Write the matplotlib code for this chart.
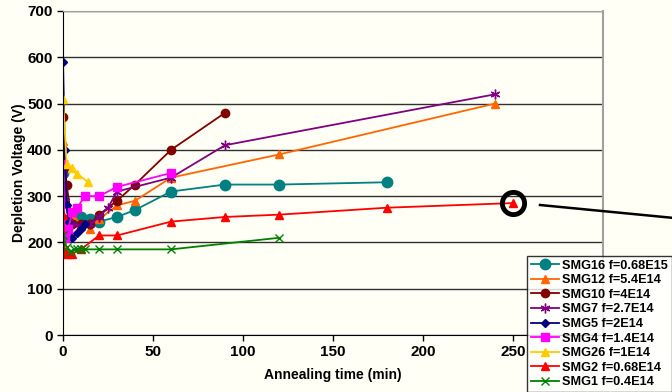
import numpy as np
import matplotlib
matplotlib.use('Agg')
import matplotlib.pyplot as plt
from matplotlib.lines import Line2D

plt.rcParams['font.family'] = ['Liberation Sans', 'DejaVu Sans']
plt.rcParams['font.weight'] = 'bold'

# Annealing data: time (min) vs depletion voltage (V) for each sample
smg16_t = [0, 5, 8, 10, 15, 20, 30, 40, 60, 90, 120, 180]
smg16_v = [350, 245, 250, 255, 250, 245, 255, 270, 310, 325, 325, 330]

smg12_t = [0, 1, 5, 10, 15, 20, 30, 40, 60, 120, 240]
smg12_v = [420, 290, 260, 240, 230, 250, 280, 290, 340, 390, 500]

smg10_t = [0, 1, 2, 5, 10, 15, 20, 30, 40, 60, 90]
smg10_v = [470, 360, 325, 240, 240, 240, 260, 290, 325, 400, 480]

smg7_t = [0, 1, 3, 5, 10, 15, 20, 25, 30, 60, 90, 240]
smg7_v = [350, 290, 255, 240, 235, 240, 255, 275, 310, 340, 410, 520]

smg5_t = [0, 1, 2, 3, 5, 8, 10, 12]
smg5_v = [590, 400, 280, 245, 210, 220, 230, 240]

smg4_t = [0, 1, 3, 5, 8, 12, 20, 30, 60]
smg4_v = [370, 210, 230, 265, 275, 300, 300, 320, 350]

smg26_t = [0, 2, 5, 8, 14]
smg26_v = [510, 370, 360, 348, 330]

smg2_t = [0, 1, 2, 5, 10, 20, 30, 60, 90, 120, 180, 250]
smg2_v = [260, 180, 175, 175, 185, 215, 215, 245, 255, 260, 275, 285]

smg1_t = [0, 2, 4, 6, 8, 10, 12, 20, 30, 60, 120]
smg1_v = [215, 190, 180, 185, 185, 185, 185, 185, 185, 185, 210]

x_ticks = [0, 50, 100, 150, 200, 250]
y_ticks = [0, 100, 200, 300, 400, 500, 600, 700]

bg = '#FFFFF5'
fig = plt.figure(figsize=(6.72, 3.92), dpi=100, facecolor=bg)
ax = fig.add_axes([0.0938, 0.1454, 0.8036, 0.8266], facecolor=bg)

series = [
    (smg16_t, smg16_v, 'SMG16 f=0.68E15', '#008080', 'o', 7.5),
    (smg12_t, smg12_v, 'SMG12 f=5.4E14', '#FF6600', '^', 6),
    (smg10_t, smg10_v, 'SMG10 f=4E14', '#800000', 'o', 6),
    (smg7_t, smg7_v, 'SMG7 f=2.7E14', '#800080', (6, 2, 0), 7),
    (smg5_t, smg5_v, 'SMG5 f=2E14', '#000080', 'D', 4.5),
    (smg4_t, smg4_v, 'SMG4 f=1.4E14', '#FF00FF', 's', 6),
    (smg26_t, smg26_v, 'SMG26 f=1E14', '#FFCC00', '^', 6),
    (smg2_t, smg2_v, 'SMG2 f=0.68E14', '#FF0000', '^', 6),
    (smg1_t, smg1_v, 'SMG1 f=0.4E14', '#008000', 'x', 5.5),
]

for t, v, name, col, mk, ms in series:
    ax.plot(t, v, color=col, marker=mk, markersize=ms, linewidth=1.3,
            markeredgecolor=col, markerfacecolor=col, markeredgewidth=1.0,
            label=name)

# ring around the last SMG2 point
ax.plot(smg2_t[-1], smg2_v[-1], marker='o', markersize=16, markerfacecolor='none',
        markeredgecolor='black', markeredgewidth=3.5, clip_on=False, zorder=5)

ax.set_xlim(0, 300)
ax.set_ylim(0, 700)
ax.set_xticks(x_ticks)
ax.set_yticks(y_ticks)
ax.yaxis.grid(True, color='#303030', linewidth=1.0)
ax.set_axisbelow(True)
ax.tick_params(direction='out', length=4, width=1, labelsize=11)
for lbl in ax.get_xticklabels() + ax.get_yticklabels():
    lbl.set_fontweight('bold')
ax.spines['left'].set_color('black')
ax.spines['bottom'].set_color('black')
ax.spines['top'].set_color('#A0A0A0')
ax.spines['right'].set_color('#A0A0A0')
ax.spines['right'].set_linewidth(1.5)

ax.set_xlabel('Annealing time (min)', fontsize=10, fontweight='bold', labelpad=6)
ax.set_ylabel('Depletion Voltage (V)', fontsize=10, fontweight='bold', labelpad=1)

# pointer line leading away from the ring
fig.add_artist(Line2D([540 / 672, 700 / 672], [1 - 205 / 392, 1 - 220.5 / 392],
                      color='black', linewidth=1.8, transform=fig.transFigure))

leg = fig.legend(loc='upper left', bbox_to_anchor=(527 / 672, 1 - 256 / 392),
                 bbox_transform=fig.transFigure, frameon=True, fancybox=False,
                 prop={'weight': 'bold', 'size': 9.2}, handlelength=2.2,
                 handletextpad=0.25, labelspacing=0.2, borderpad=0.3,
                 borderaxespad=0)
leg.get_frame().set_edgecolor('black')
leg.get_frame().set_facecolor('white')
leg.get_frame().set_linewidth(1.0)

fig.savefig('out.png', dpi=100, facecolor=bg)
